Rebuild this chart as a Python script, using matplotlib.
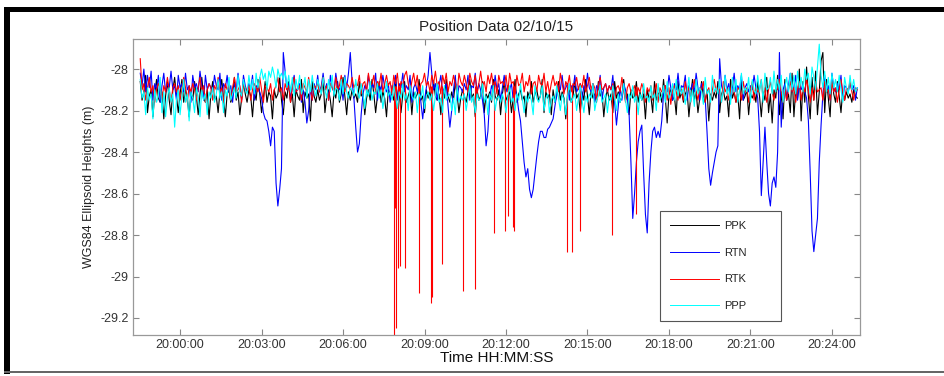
import numpy as np
import pandas as pd
import matplotlib
matplotlib.use("Agg")
import matplotlib.pyplot as plt
import matplotlib.dates as mdates
from matplotlib.lines import Line2D
from matplotlib.patches import Rectangle

# one sample every 4 s, first epoch 19:58:32
start = "2015-02-10 19:58:32"
step_s = 4

# heights in cm relative to -28 m (e.g. -12 -> -28.12 m)
ppk_cm = [-6, -15, -11, -3, -21, -13, -10, -23, -12, -5, -14, -16, -11, -24, -13, -6, -15, -22, -10, -4,
          -13, -21, -12, -5, -16, -10, -14, -23, -11, -15, -6, -13, -22, -12, -4, -14, -16, -10, -24, -12,
          -6, -15, -13, -21, -11, -5, -14, -23, -12, -10, -16, -13, -4, -15, -11, -22, -14, -6, -12, -16,
          -10, -13, -23, -11, -15, -5, -12, -21, -14, -6, -16, -11, -13, -24, -10, -14, -12, -4, -15, -22,
          -11, -14, -6, -16, -12, -23, -10, -13, -15, -5, -21, -11, -14, -12, -25, -6, -13, -16, -10, -15,
          -12, -5, -21, -13, -10, -15, -23, -11, -14, -6, -16, -12, -4, -13, -22, -11, -15, -10, -14, -12,
          -16, -6, -13, -11, -22, -14, -10, -15, -5, -12, -21, -13, -6, -16, -11, -14, -23, -10, -13, -12,
          -15, -5, -14, -11, -21, -12, -6, -16, -13, -10, -22, -11, -14, -12, -5, -15, -13, -21, -10, -14,
          -11, -16, -6, -13, -15, -12, -22, -10, -14, -5, -13, -16, -11, -15, -6, -12, -21, -14, -10, -13,
          -16, -11, -5, -14, -12, -23, -10, -15, -13, -6, -21, -12, -14, -11, -16, -5, -13, -15, -10, -22,
          -12, -6, -15, -13, -11, -21, -14, -5, -16, -12, -10, -15, -13, -23, -11, -14, -6, -16, -12, -10,
          -15, -13, -5, -21, -11, -14, -12, -22, -10, -16, -13, -6, -15, -11, -14, -24, -12, -10, -16, -13,
          -6, -14, -12, -21, -11, -15, -5, -13, -22, -10, -14, -12, -16, -6, -13, -11, -23, -14, -10, -15,
          -12, -21, -6, -14, -11, -16, -13, -5, -15, -12, -22, -10, -14, -13, -6, -16, -11, -15, -12, -24,
          -10, -14, -13, -21, -6, -15, -12, -11, -16, -5, -14, -26, -12, -10, -15, -13, -22, -6, -14, -11,
          -16, -12, -10, -23, -13, -5, -15, -11, -21, -14, -6, -13, -16, -10, -25, -12, -15, -11, -14, -6,
          -21, -12, -10, -15, -13, -23, -5, -14, -11, -16, -12, -24, -6, -15, -13, -10, -22, -12, -14, -11,
          -16, -6, -13, -23, -11, -15, -4, -21, -12, -26, -10, -14, -3, -22, -11, -24, -5, -15, -12, -21,
          -2, -23, -10, -14, 0, -25, -6, -16, 1, -13, -24, -4, -15, -1, -22, -11, 4, 8, -21, -5,
          -14, -23, -3, -12, -16, -6, -13, -21, -10, -15, -11, -14, -12, -16, -10, -13, -14]

rtn_cm = [-2, -8, 0, -11, -3, -9, -1, -15, -7, -10, -3, -16, -8, -2, -11, -7, -9, -1, -10, -8,
          -15, -3, -9, -7, -11, -2, -10, -8, -16, -3, -9, -7, -11, -1, -8, -15, -3, -10, -7, -9,
          -11, -3, -8, -10, -2, -15, -7, -9, -3, -11, -8, -16, -7, -10, -2, -9, -15, -3, -8, -11,
          -7, -10, -3, -15, -8, -9, -11, -14, -21, -24, -25, -30, -37, -28, -30, -55, -66, -58, -48, 8,
          -1, -10, -7, -15, -8, -3, -11, -9, -7, -16, -10, -16, -26, -20, -9, -15, -7, -10, -3, -11,
          -8, -2, -10, -7, -15, -3, -9, -11, -2, -8, -10, -7, -15, -3, -9, -2, 8, -6, -14, -28,
          -40, -36, -22, -12, -8, -10, -3, -11, -7, -9, -2, -15, -8, -10, -3, -9, -11, -7, -16, -8,
          -10, -3, -15, -7, -9, -2, -11, -8, -10, -3, -16, -9, -7, -11, -8, -16, -24, -15, -9, -3,
          8, -2, -10, -7, -15, -8, -3, -11, -9, -7, -18, -28, -20, -10, -3, -15, -8, -9, -11, -7,
          -10, -3, -15, -8, -9, -2, -11, -7, -10, -15, -22, -37, -30, -14, -8, -11, -3, -10, -7, -15,
          -9, -3, -11, -8, -10, -7, -15, -9, -13, -20, -25, -35, -45, -52, -48, -58, -62, -58, -50, -42,
          -35, -30, -30, -33, -33, -29, -28, -26, -24, -18, -12, -8, -10, -3, -11, -9, -7, -15, -8, -10,
          -3, -11, -9, -7, -15, -8, -10, -2, -9, -11, -7, -16, -8, -10, -3, -15, -9, -7, -11, -8,
          -10, -3, -16, -27, -18, -9, -15, -7, -10, -14, -22, -45, -72, -60, -45, -35, -30, -27, -50, -70,
          -79, -55, -40, -30, -28, -33, -30, -33, -25, -12, -8, -11, -3, -9, -15, -7, -10, -2, -11, -8,
          -9, -3, -15, -8, -10, -7, -11, -2, -9, -15, -7, -10, -14, -30, -48, -56, -50, -45, -40, -37,
          5, -8, -11, -3, -10, -7, -15, -9, -2, -11, -8, -10, -3, -15, -9, -7, -11, -8, -10, -3,
          -9, -14, -30, -61, -45, -28, -45, -60, -66, -55, -52, -57, -40, 8, -28, -10, -7, -15, -8, -2,
          -11, -9, -3, -15, -8, -10, -7, -11, -14, -25, -50, -78, -88, -80, -72, -45, -27, -12, -3, -10,
          -8, -15, -2, -9, -11, -7, -10, -3, -15, -8, -9, -11, -7, -10, -8, -15, -9]

rtk_cm = [5, -10, -7, -15, -9, -4, -11, -8, -16, -10, -7, -9, -15, -8, -11, -4, -10, -16, -9, -7,
          -11, -8, -15, -10, -4, -9, -16, -8, -11, -7, -10, -15, -9, -4, -11, -8, -16, -10, -7, -9,
          -15, -8, -10, -4, -11, -9, -16, -7, -10, -8, -15, -9, -4, -11, -10, -8, -16, -7, -9, -11,
          -8, -15, -10, -7, -9, -11, -4, -10, -16, -8, -9, -11, -7, -15, -10, -8, -4, -11, -9, -15,
          -7, -10, -8, -16, -9, -4, -11, -10, -8, -15, -7, -9, -11, -4, -10, -15, -8, -9, -7, -11,
          -9, -4, -10, -8, -15, -7, -9, -11, -4, -10, -8, -3, -9, -11, -7, -8, -10, -4, -9, -7,
          -8, -3, -12, -7, -6, -11, -2, -8, -7, -3, -12, -6, -8, -2, -11, -7, -3, -8, -6, -12,
          -3, -7, -2, -11, -6, -8, -3, -1, -7, -11, -6, -2, -8, -3, -12, -7, -6, -2, -8, -6,
          -11, -3, -7, -1, -8, -6, -12, -3, -7, -2, -11, -6, -8, -3, -7, -12, -2, -6, -8, -3,
          -7, -11, -2, -6, -8, -3, -12, -7, -1, -8, -6, -11, -3, -7, -2, -8, -6, -12, -3, -7,
          -6, -8, -3, -11, -2, -7, -6, -12, -3, -8, -7, -2, -11, -6, -8, -3, -12, -7, -6, -11,
          -3, -7, -8, -2, -11, -6, -12, -7, -3, -8, -6, -11, -2, -7, -12, -6, -8, -3, -11, -7,
          -8, -4, -10, -7, -9, -3, -11, -8, -4, -10, -7, -9, -15, -8, -4, -10, -9, -7, -11, -8,
          -10, -7, -15, -9, -8, -11, -4, -10, -16, -9, -7, -11, -10, -8, -15, -9, -11, -7, -10, -16,
          -9, -11, -8, -15, -10, -7, -16, -9, -11, -10, -8, -15, -9, -17, -10, -8, -11, -15, -9, -10,
          -15, -6, -11, -9, -16, -10, -5, -11, -15, -9, -10, -6, -16, -11, -9, -15, -10, -5, -11, -9,
          -10, -16, -6, -11, -9, -15, -10, -5, -11, -16, -9, -10, -15, -6, -11, -9, -16, -10, -6, -15,
          -9, -11, -10, -5, -15, -9, -16, -10, -6, -11, -15, -9, -10, -5, -11, -16, -9, -15, -10, -6,
          -11, -9, -16, -10, -6, -15, -9, -11, -5, -10, -16, -9, -15, -6, -11, -10, -9, -15, -6, -11,
          -10, -15, -6, -11, -9, -16, -10, -5, -11, -15, -9, -10, -6, -11, -15, -9, -10]

ppp_cm = [-5, -14, -11, -22, -9, -15, -12, -24, -10, -16, -13, -4, -21, -11, -23, -14, -9, -16, -12, -28,
          -15, -10, -22, -13, -5, -16, -12, -25, -11, -14, -21, -9, -13, -23, -10, -15, -12, -22, -11, -14,
          -9, -16, -12, -5, -14, -11, -21, -10, -13, -4, -15, -12, -9, -14, -3, -11, -13, -5, -10, -12,
          -3, -10, -5, -12, -2, -9, -4, 0, -5, -2, -10, -1, -4, 1, -3, -9, 0, -4, -2, -5,
          -1, -9, -3, -11, -4, -13, -5, -10, -3, -12, -9, -4, -14, -5, -11, -3, -10, -13, -5, -9,
          -12, -4, -10, -14, -5, -11, -3, -13, -9, -10, -15, -5, -12, -4, -11, -14, -9, -10, -13, -5,
          -11, -14, -7, -12, -19, -10, -13, -6, -15, -11, -12, -7, -14, -10, -19, -12, -6, -13, -11, -15,
          -8, -13, -19, -11, -14, -7, -15, -12, -20, -8, -13, -15, -11, -21, -12, -14, -8, -19, -13, -11,
          -15, -12, -20, -13, -7, -16, -14, -21, -8, -15, -13, -12, -20, -14, -22, -8, -16, -13, -15, -12,
          -20, -14, -8, -16, -13, -21, -12, -15, -14, -7, -16, -13, -22, -12, -15, -8, -20, -14, -13, -16,
          -12, -15, -21, -13, -8, -16, -14, -20, -12, -15, -7, -14, -21, -13, -16, -12, -15, -22, -8, -14,
          -16, -13, -8, -20, -14, -12, -21, -15, -13, -16, -8, -14, -20, -12, -15, -22, -13, -7, -16, -14,
          -12, -20, -14, -8, -15, -21, -13, -16, -12, -14, -7, -20, -15, -13, -8, -16, -14, -12, -21, -13,
          -15, -8, -14, -20, -12, -16, -13, -7, -15, -21, -12, -14, -8, -16, -13, -22, -12, -15, -7, -14,
          -13, -16, -8, -14, -12, -20, -7, -15, -13, -8, -16, -6, -14, -12, -7, -15, -5, -13, -8, -12,
          -9, -17, -11, -4, -16, -10, -18, -5, -12, -9, -11, -17, -4, -12, -10, -16, -3, -11, -9, -12,
          -5, -16, -10, -3, -12, -9, -17, -4, -11, -5, -16, -10, -2, -12, -9, -11, -4, -16, -5, -10,
          -12, -3, -11, -5, -16, -2, -10, -9, -4, -12, -1, -11, -5, -10, -3, -16, -9, -4, -11, -2,
          -10, -3, -12, -1, -9, -4, -11, 0, -5, -2, -12, 1, -4, -10, 1, 12, -3, -9, -1, -11,
          -4, -12, -2, -9, -5, -11, -3, -10, -16, -4, -9, -12, -3, -10, -5, -11, -9]

# RTK fix drop-outs: seconds after 20:00:00 and lowest height (m)
rtk_drop_s = [473, 475, 477, 482, 486, 497, 528, 554, 556, 579, 625, 652,
              694, 718, 724, 736, 738, 855, 866, 884, 954, 1007]
rtk_drop_h = [-29.28, -28.67, -29.25, -28.96, -28.95, -28.96, -29.08, -29.13, -29.10, -28.94, -29.07, -29.06,
              -28.79, -28.78, -28.71, -28.76, -28.78, -28.88, -28.88, -28.78, -28.80, -28.70]
rtk_level = -28.08

ytick_vals = [-29.2, -29.0, -28.8, -28.6, -28.4, -28.2, -28.0]
ytick_labels = ["-29.2", "-29", "-28.8", "-28.6", "-28.4", "-28.2", "-28"]

names = ["PPK", "RTN", "RTK", "PPP"]
colors = ["#000000", "#0000ff", "#ff0000", "#00ffff"]

plt.rcParams["font.family"] = ["Liberation Sans", "DejaVu Sans"]
plt.rcParams["axes.unicode_minus"] = False


def heights(cm):
    return -28 + np.array(cm) / 100.0


def times(n):
    t = pd.Timestamp(start) + pd.to_timedelta(np.arange(n) * step_s, unit="s")
    return t.to_pydatetime()


W, H = 944, 376
fig = plt.figure(figsize=(W / 100, H / 100), dpi=100)
ax = fig.add_axes([133 / W, 1 - 335 / H, 727 / W, 296 / H])

lw = 0.8
ax.plot(times(len(ppk_cm)), heights(ppk_cm), color=colors[0], lw=lw)
ax.plot(times(len(rtn_cm)), heights(rtn_cm), color=colors[1], lw=lw)
ax.plot(times(len(rtk_cm)), heights(rtk_cm), color=colors[2], lw=lw)
drop_t = (pd.Timestamp("2015-02-10 20:00:00") + pd.to_timedelta(rtk_drop_s, unit="s")).to_pydatetime()
ax.vlines(drop_t, rtk_drop_h, rtk_level, color=colors[2], lw=0.8)
ax.plot(times(len(ppp_cm)), heights(ppp_cm), color=colors[3], lw=lw)

ax.set_xlim(pd.Timestamp("2015-02-10 19:58:16").to_pydatetime(),
            pd.Timestamp("2015-02-10 20:25:02").to_pydatetime())
ax.set_ylim(-29.282, -27.855)
ax.xaxis.set_major_locator(mdates.MinuteLocator(byminute=range(0, 60, 3)))
ax.xaxis.set_major_formatter(mdates.DateFormatter("%H:%M:%S"))
ax.set_yticks(ytick_vals)
ax.set_yticklabels(ytick_labels)

for s in ax.spines.values():
    s.set_color("#999999")
    s.set_linewidth(0.9)
ax.tick_params(direction="in", length=4, width=0.8, color="#888888",
               top=True, right=True, labelsize=9, labelcolor="#333333", pad=3)

ax.set_title("Position Data 02/10/15", fontsize=11, color="#222222", pad=6)
ax.set_xlabel("Time HH:MM:SS", fontsize=11, color="#111111", labelpad=0)
ax.set_ylabel("WGS84 Ellipsoid Heights (m)", fontsize=9, color="#222222", labelpad=4)

handles = [Line2D([], [], color=c, lw=0.7) for c in colors]
leg = ax.legend(handles, names, loc="lower left", bbox_to_anchor=(0.725, 0.047, 0.166, 0.368),
                mode="expand", borderaxespad=0, fontsize=8, handlelength=4.4, handletextpad=0.5,
                labelspacing=1.5, borderpad=0.9, fancybox=False, edgecolor="#555555", framealpha=1)
leg.get_frame().set_linewidth(0.8)
for t in leg.get_texts():
    t.set_color("#222222")


# screenshot frame around the figure
def frame(x0, y0, x1, y1, color):
    fig.add_artist(Rectangle((x0 / W, 1 - y1 / H), (x1 - x0) / W, (y1 - y0) / H,
                             transform=fig.transFigure, color=color, lw=0))


frame(4, 7, W, 12, "black")
frame(4, 7, 10, 374, "black")
frame(4, 371, W, 373, "#666666")

fig.savefig("out.png", dpi=100)
